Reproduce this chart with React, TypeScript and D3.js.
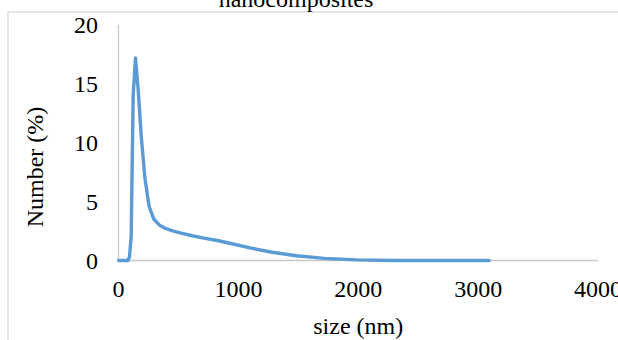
import React, { useEffect, useRef } from 'react';
import * as d3 from 'd3';

// particle size bins (nm) and number distribution (%)
const sizes = [
  0.4, 50.75, 58.77, 68.06, 78.82, 91.28, 105.7, 122.4, 141.8, 164.2, 190.1,
  220.2, 255.0, 295.3, 342.0, 396.1, 458.7, 531.2, 615.1, 712.4, 825.0, 955.4,
  1106, 1281, 1484, 1718, 1990, 2305, 2669, 3091,
];
const numbers = [
  0, 0, 0, 0, 0, 0.3, 2.0, 14.0, 17.2, 14.5, 10.5,
  7.0, 4.6, 3.5, 3.0, 2.7, 2.5, 2.3, 2.1, 1.9, 1.7, 1.4,
  1.05, 0.7, 0.4, 0.18, 0.05, 0, 0, 0,
];
const xTicks = [0, 1000, 2000, 3000, 4000];
const yTicks = [0, 5, 10, 15, 20];

const FONT = '"Liberation Serif", "Times New Roman", serif';

const SizeDistributionChart = () => {
  const d3Container = useRef(null);

  useEffect(() => {
    if (d3Container.current) {
      const width = 618;
      const height = 340;
      const left = 118.5;
      const right = 598;
      const top = 25;
      const bottom = 260.5;

      const svg = d3.select(d3Container.current)
        .attr('width', width)
        .attr('height', height);
      svg.selectAll('*').remove();

      const x = d3.scaleLinear().domain([0, 4000]).range([left, right]);
      const y = d3.scaleLinear().domain([0, 20]).range([bottom, top]);

      // chart frame (runs off the picture)
      svg.append('rect')
        .attr('x', 8)
        .attr('y', 12)
        .attr('width', 700)
        .attr('height', 400)
        .attr('fill', 'none')
        .attr('stroke', '#d9d9d9')
        .attr('stroke-width', 1.3);

      // title, mostly cut off at the top
      svg.append('text')
        .attr('x', 296)
        .attr('y', 7)
        .attr('text-anchor', 'middle')
        .style('font-family', FONT)
        .style('font-size', '24px')
        .text('nanocomposites');

      // axis lines
      svg.append('line')
        .attr('x1', left).attr('x2', left)
        .attr('y1', top).attr('y2', bottom)
        .attr('stroke', '#c8c8c8')
        .attr('stroke-width', 1.3);
      svg.append('line')
        .attr('x1', left).attr('x2', right)
        .attr('y1', bottom).attr('y2', bottom)
        .attr('stroke', '#c8c8c8')
        .attr('stroke-width', 1.3);

      // tick labels
      svg.selectAll('.ytick')
        .data(yTicks)
        .enter().append('text')
          .attr('class', 'ytick')
          .attr('x', 98)
          .attr('y', d => y(d) + 8)
          .attr('text-anchor', 'end')
          .style('font-family', FONT)
          .style('font-size', '24px')
          .text(d => d);

      svg.selectAll('.xtick')
        .data(xTicks)
        .enter().append('text')
          .attr('class', 'xtick')
          .attr('x', d => x(d))
          .attr('y', 297)
          .attr('text-anchor', 'middle')
          .style('font-family', FONT)
          .style('font-size', '24px')
          .text(d => d);

      // axis titles
      svg.append('text')
        .attr('transform', 'translate(43, 167) rotate(-90)')
        .attr('text-anchor', 'middle')
        .style('font-family', FONT)
        .style('font-size', '24px')
        .text('Number (%)');

      svg.append('text')
        .attr('x', (left + right) / 2)
        .attr('y', 334)
        .attr('text-anchor', 'middle')
        .style('font-family', FONT)
        .style('font-size', '24px')
        .text('size (nm)');

      // distribution line
      const line = d3.line()
        .x((d, i) => x(sizes[i]))
        .y(d => y(d));

      svg.append('path')
        .datum(numbers)
        .attr('d', line)
        .attr('fill', 'none')
        .attr('stroke', '#5b9bd5')
        .attr('stroke-width', 3.4)
        .attr('stroke-linejoin', 'round')
        .attr('stroke-linecap', 'round');
    }
  }, []);

  return (
    <svg
      ref={d3Container}
      style={{ position: 'absolute', left: 0, top: 0, background: '#fff' }}
    />
  );
};

export default function App() {
  return <SizeDistributionChart />;
}
